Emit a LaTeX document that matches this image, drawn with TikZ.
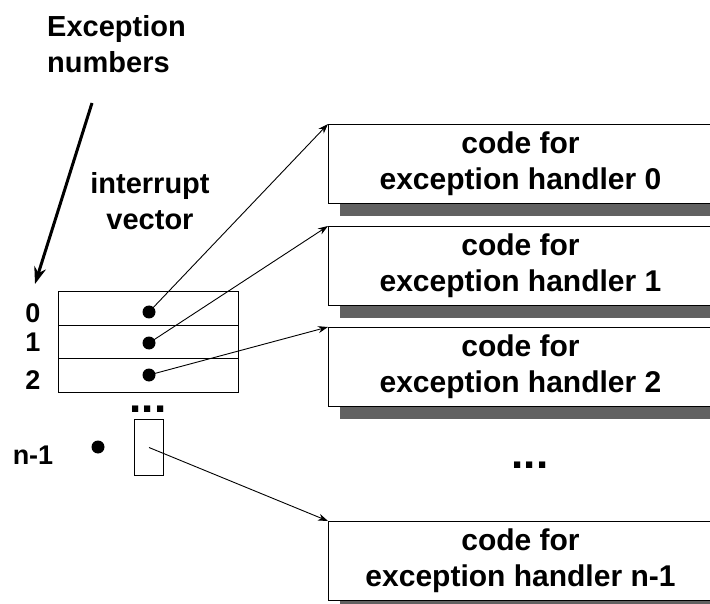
\documentclass[tikz,border=0pt]{standalone}
\usepackage{fontspec}
\setmainfont{Liberation Sans}
\usetikzlibrary{arrows.meta,backgrounds}
\definecolor{shadowgray}{gray}{0.38}
\begin{document}
\begin{tikzpicture}[x=1pt,y=-1pt,
  hbox/.style={draw=black,line width=1pt,fill=white,minimum width=384pt,minimum height=79pt,inner sep=0pt,align=center,anchor=north west,font=\fontsize{30}{36}\selectfont\bfseries},
  vrow/.style={draw=black,line width=1pt,minimum width=180pt,minimum height=33.5pt,inner sep=0pt,anchor=north west},
  lbl/.style={font=\fontsize{27}{32}\selectfont\bfseries,inner sep=0pt},
  bigtxt/.style={font=\fontsize{29}{36}\selectfont\bfseries,inner sep=0pt},
  ell/.style={font=\fontsize{44}{44}\selectfont\bfseries,inner sep=0pt,anchor=base},
  bullet/.style={circle,fill=black,inner sep=0pt,minimum size=13pt},
  ptr/.style={line width=0.9pt,-{Stealth[length=10pt,width=7pt]}},
  shadowfill/.style={fill=shadowgray}
]
\useasboundingbox (0,0) rectangle (710,604);

% title and big arrow
\node[bigtxt,align=left,anchor=north west] (title) at (47,15) {Exception\\numbers};
\coordinate (arrstart) at (92,103);
\coordinate (arrend) at (35,284);
\draw[line width=3pt,-{Stealth[length=17pt,width=12pt]}] (arrstart) -- (arrend);

% interrupt vector
\node[bigtxt,align=center,anchor=base] (ivlab) at (150,230) {interrupt\\vector};
\node[vrow] (r0) at (58,291) {};
\node[vrow] (r1) at (58,324.5) {};
\node[vrow] (r2) at (58,358) {};
\node[bullet] (d0) at (149,312) {};
\node[bullet] (d1) at (149,343) {};
\node[bullet] (d2) at (149,375) {};
\node[lbl,anchor=base] (l0) at (33,323) {0};
\node[lbl,anchor=base] (l1) at (33,352) {1};
\node[lbl,anchor=base] (l2) at (33,389) {2};
\node[ell] (e1) at (148,412) {...};
\node[draw=black,line width=1pt,minimum width=29pt,minimum height=56pt,inner sep=0pt,anchor=north west] (sr) at (134,419) {};
\node[bullet] (dn) at (98,447) {};
\node[lbl,anchor=base] (ln) at (33,464) {n-1};

% handler boxes
\node[hbox] (h0) at (328,124) {code for\\exception handler 0};
\node[hbox] (h1) at (328,226) {code for\\exception handler 1};
\node[hbox] (h2) at (328,327) {code for\\exception handler 2};
\node[ell] (e2) at (530,468) {...};
\node[hbox] (hn) at (328,521) {code for\\exception handler n-1};

\begin{scope}[on background layer]
  \foreach \b in {h0,h1,h2,hn}{
    \fill[shadowfill] ([xshift=12pt]\b.south west) rectangle ([xshift=12pt,yshift=-12pt]\b.south east);
  }
\end{scope}

% pointers
\draw[ptr] (d0.center) -- (h0.north west);
\draw[ptr] (d1.center) -- (h1.north west);
\draw[ptr] (d2.center) -- (h2.north west);
\draw[ptr] (sr.center) -- (hn.north west);
\end{tikzpicture}
\end{document}
